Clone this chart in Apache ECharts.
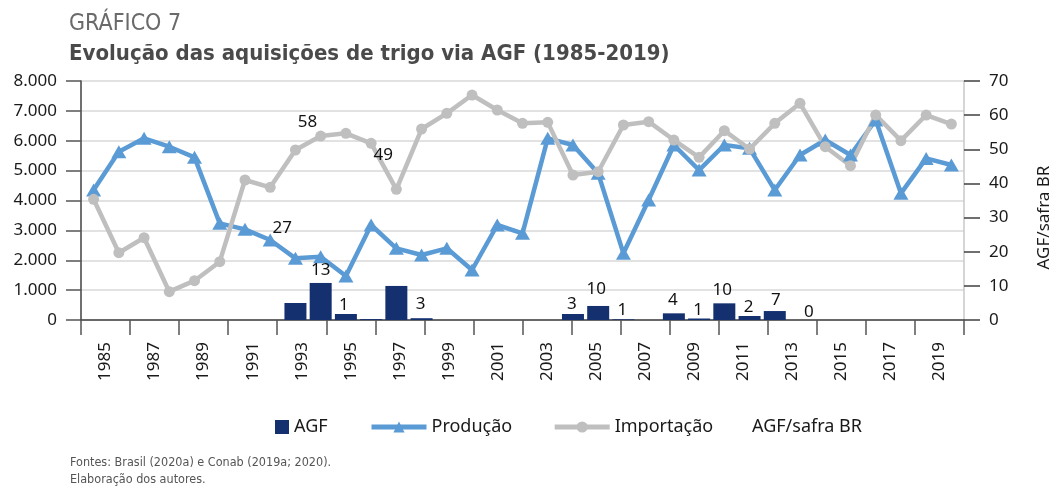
<!DOCTYPE html>
<html>
<head>
<meta charset="utf-8">
<script src="https://cdn.jsdelivr.net/npm/echarts@6/dist/echarts.min.js"></script>
<style>
  html, body { margin: 0; padding: 0; background: #fff; }
  #chart { width: 1061px; height: 486px; }
</style>
</head>
<body>
<div id="chart"></div>
<script>
// anos da série
var years = ['1985', '1986', '1987', '1988', '1989', '1990', '1991', '1992', '1993', '1994',
  '1995', '1996', '1997', '1998', '1999', '2000', '2001', '2002', '2003', '2004',
  '2005', '2006', '2007', '2008', '2009', '2010', '2011', '2012', '2013', '2014',
  '2015', '2016', '2017', '2018', '2019']
// rótulos do eixo x (a cada dois anos)
var tickYears = ['1985', '1987', '1989', '1991', '1993', '1995', '1997', '1999', '2001',
  '2003', '2005', '2007', '2009', '2011', '2013', '2015', '2017', '2019']

// mil t
var producao = [4350, 5635, 6080, 5800, 5445, 3235, 3035, 2677, 2065, 2120,
  1473, 3180, 2400, 2175, 2400, 1673, 3180, 2900, 6080, 5857,
  4910, 2232, 4016, 5857, 5020, 5857, 5745, 4350, 5522, 6024,
  5522, 6694, 4240, 5410, 5187]
var importacao = [4040, 2253, 2755, 948, 1316, 1952, 4686, 4440, 5690, 6158,
  6248, 5914, 4373, 6393, 6918, 7530, 7029, 6583, 6616, 4853,
  4964, 6527, 6638, 6024, 5445, 6337, 5723, 6583, 7252, 5800,
  5165, 6861, 6002, 6861, 6560]
var agf = ['-', '-', '-', '-', '-', '-', '-', '-', 570, 1240,
  200, 30, 1140, 60, '-', '-', '-', '-', '-', 200,
  470, 22, '-', 223, 50, 558, 134, 300, '-', 0,
  '-', '-', '-', '-', '-']
// %
var agfSafra = ['-', '-', '-', '-', '-', '-', '-', '-', 27, 58,
  13, 1, 49, 3, '-', '-', '-', '-', '-', 3,
  10, 1, '-', 4, 1, 10, 2, 7, '-', 0,
  '-', '-', '-', '-', '-']

var axisFont = 'Noto Sans'
var titleFont = "'Liberation Sans Narrow', 'DejaVu Sans Condensed', 'Noto Sans'"

// ajuste fino da posição dos rótulos AGF/safra
var labelTweak = {
  '1993': { position: 'left', distance: 3, offset: [0, 0] },
  '1994': { position: 'left', distance: 3, offset: [0, 0] },
  '1995': { position: 'left', distance: 15, offset: [0, -5] },
  '1996': { position: 'left', distance: 22, offset: [0, -11] },
  '1997': { position: 'left', distance: 3, offset: [0, 2] },
  '2005': { position: 'inside', offset: [-2, 3] },
  '2010': { position: 'inside', offset: [-2, 4] },
  '2012': { position: 'inside', offset: [1, 4] },
  '2014': { position: 'left', distance: 11, offset: [0, -8] }
}

var ratioData = agfSafra.map(function (v, i) {
  var t = labelTweak[years[i]]
  if (v === '-' || !t) return v
  return { value: v, label: t }
})

function milhar(v) {
  return String(v).replace(/\B(?=(\d{3})+(?!\d))/g, '.')
}

var legendText = { fontFamily: axisFont, fontSize: 18, color: '#1a1a1a' }

var chart = echarts.init(document.getElementById('chart'))
chart.setOption({
  animation: false,
  backgroundColor: '#fff',
  title: [
    {
      text: 'GRÁFICO 7',
      left: 64,
      top: 8,
      textStyle: { fontFamily: titleFont, fontSize: 23, fontWeight: 'normal', color: '#6a6a6a' }
    },
    {
      text: 'Evolução das aquisições de trigo via AGF (1985-2019)',
      left: 64,
      top: 38,
      textStyle: { fontFamily: titleFont, fontSize: 22, fontWeight: 'bold', color: '#4a4a4a' }
    },
    {
      text: 'Fontes: Brasil (2020a) e Conab (2019a; 2020).\nElaboração dos autores.',
      left: 65,
      top: 449,
      textStyle: { fontFamily: titleFont, fontSize: 12.5, fontWeight: 'normal', color: '#555', lineHeight: 17 }
    }
  ],
  legend: [
    {
      data: [{ name: 'AGF', icon: 'rect' }],
      left: 270,
      top: 413,
      itemWidth: 14,
      itemHeight: 14,
      textStyle: legendText
    },
    {
      data: ['Produção', 'Importação'],
      left: 364,
      top: 413,
      itemWidth: 55,
      itemHeight: 14,
      itemGap: 40,
      lineStyle: { width: 5 },
      textStyle: legendText
    },
    {
      data: [{ name: 'AGF/safra BR', icon: 'none' }],
      left: 742,
      top: 413,
      itemWidth: 0,
      itemHeight: 14,
      textStyle: legendText
    }
  ],
  grid: { left: 81, right: 90, top: 81, bottom: 166 },
  xAxis: [
    {
      type: 'category',
      data: years,
      boundaryGap: true,
      position: 'bottom',
      axisLine: { show: false },
      axisTick: { show: false },
      axisLabel: { show: false },
      splitLine: { show: false }
    },
    {
      type: 'category',
      data: tickYears,
      boundaryGap: true,
      position: 'bottom',
      axisLine: { show: true, lineStyle: { color: '#404040', width: 1.5 } },
      axisTick: { show: true, length: 15, lineStyle: { color: '#555', width: 1.5 } },
      axisLabel: {
        interval: 0,
        rotate: 90,
        margin: 22,
        fontFamily: axisFont,
        fontSize: 17,
        color: '#1a1a1a'
      },
      splitLine: { show: false }
    }
  ],
  yAxis: [
    {
      type: 'value',
      min: 0,
      max: 8000,
      interval: 1000,
      axisLine: { show: true, lineStyle: { color: '#404040', width: 1.5 } },
      axisTick: { show: true, length: 15, lineStyle: { color: '#555', width: 1.5 } },
      axisLabel: { margin: 24, fontFamily: axisFont, fontSize: 17, color: '#1a1a1a', formatter: milhar },
      splitLine: { show: true, lineStyle: { color: '#d9d9d9', width: 1.5 } }
    },
    {
      type: 'value',
      position: 'right',
      min: 0,
      max: 70,
      interval: 10,
      name: 'AGF/safra BR',
      nameLocation: 'middle',
      nameRotate: 90,
      nameGap: 72,
      nameTextStyle: { fontFamily: axisFont, fontSize: 17, color: '#1a1a1a', padding: [0, 34, 0, 0] },
      axisLine: { show: true, lineStyle: { color: '#c8c8c8', width: 1.5 } },
      axisTick: { show: true, length: 16, lineStyle: { color: '#404040', width: 1.5 } },
      axisLabel: { margin: 25, fontFamily: axisFont, fontSize: 17, color: '#1a1a1a' },
      splitLine: { show: false }
    }
  ],
  series: [
    {
      name: 'AGF',
      type: 'bar',
      xAxisIndex: 0,
      yAxisIndex: 0,
      data: agf,
      barWidth: 22,
      itemStyle: { color: '#14306f' }
    },
    {
      name: 'Produção',
      type: 'line',
      xAxisIndex: 0,
      yAxisIndex: 0,
      data: producao,
      symbol: 'triangle',
      symbolSize: [15, 13],
      lineStyle: { color: '#5b9bd5', width: 4.5 },
      itemStyle: { color: '#5b9bd5' }
    },
    {
      name: 'Importação',
      type: 'line',
      xAxisIndex: 0,
      yAxisIndex: 0,
      data: importacao,
      symbol: 'circle',
      symbolSize: 11,
      lineStyle: { color: '#bfbfbf', width: 4.5 },
      itemStyle: { color: '#bfbfbf' }
    },
    {
      name: 'AGF/safra BR',
      type: 'scatter',
      xAxisIndex: 0,
      yAxisIndex: 1,
      data: ratioData,
      symbolSize: 1,
      itemStyle: { color: 'rgba(0,0,0,0)', opacity: 1 },
      z: 5,
      label: {
        show: true,
        position: 'inside',
        offset: [-1, -6],
        opacity: 1,
        fontFamily: axisFont,
        fontSize: 17,
        color: '#111',
        formatter: function (p) { return p.value }
      }
    }
  ]
})
</script>
</body>
</html>
